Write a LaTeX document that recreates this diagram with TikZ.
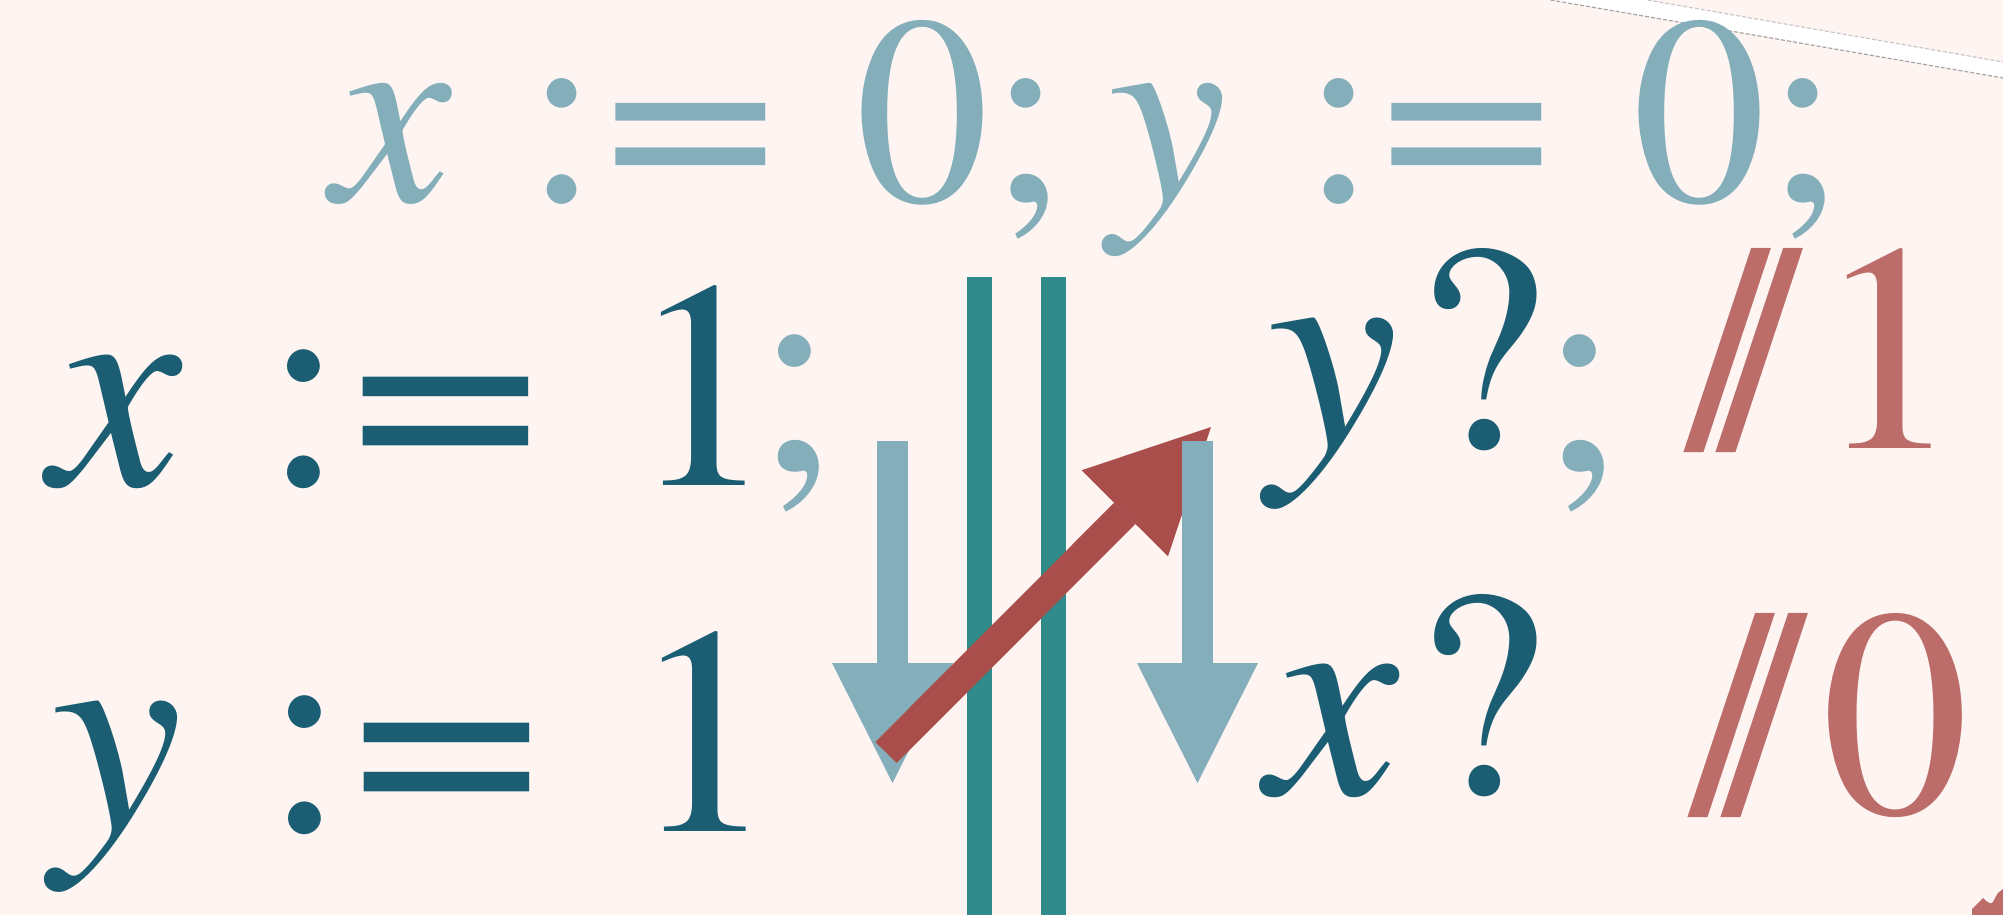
\documentclass[tikz,border=0pt]{standalone}
\usepackage{graphicx}
\usepackage{fontspec}
\setmainfont{texgyretermes-regular.otf}[ItalicFont=texgyretermes-italic.otf,BoldFont=texgyretermes-bold.otf,BoldItalicFont=texgyretermes-bolditalic.otf]
\usetikzlibrary{arrows.meta}
\definecolor{bg}{HTML}{FEF5F2}
\definecolor{lblue}{HTML}{84AEBA}
\definecolor{dteal}{HTML}{1B5D72}
\definecolor{tbar}{HTML}{318B8A}
\definecolor{rarrow}{HTML}{AA4E4B}
\definecolor{rtext}{HTML}{BC6D69}
\definecolor{bandline}{HTML}{A8A4A4}
\newcommand{\eqs}{\kern0.012em\scalebox{1.155}[1]{=}\kern0.012em}
\newcommand{\thk}{\hspace{0.278em}}
\newcommand{\thn}{\hspace{0.1667em}}
\begin{document}
\begin{tikzpicture}[x=1pt,y=-1pt,
  txt/.style={anchor=base west,inner sep=0pt,outer sep=0pt},
  big/.style={font=\fontsize{296}{300}\selectfont},
  small/.style={font=\fontsize{268}{300}\selectfont},
  downarrow/.style={draw=lblue,line width=31pt,-{Triangle[length=120pt 0 0,width=121pt 0 0,line width=0pt]}},
  redarrow/.style={draw=rarrow,line width=30pt,-{Triangle[length=122pt 0 0,width=122pt 0 0,line width=0pt]}},
  barline/.style={draw=tbar,line width=25pt},
  bandedge/.style={draw=bandline,line width=1.2pt,dash pattern=on 4pt off 2pt}]
\useasboundingbox (0,0) rectangle (2003,915);
\fill[bg] (0,0) rectangle (2003,915);
% top-right white band
\coordinate (wa1) at (1550.5,0);
\coordinate (wa2) at (2003,78);
\coordinate (wb1) at (1647.5,0);
\coordinate (wb2) at (2003,62);
\fill[white] (wa1) -- (wa2) -- (wb2) -- (wb1) -- cycle;
\draw[bandedge] (wa1) -- (wa2);
\draw[bandedge,draw opacity=0.6] (wb1) -- (wb2);
% coordinates for arrows and bars
\coordinate (la1) at (892.5,441);
\coordinate (la2) at (892.5,783);
\coordinate (ra1) at (1197.5,441);
\coordinate (ra2) at (1197.5,783);
\coordinate (rd1) at (886,752.5);
\coordinate (rd2) at (1211,427);
\coordinate (b1t) at (979.5,277);
\coordinate (b1b) at (979.5,915);
\coordinate (b2t) at (1053.5,277);
\coordinate (b2b) at (1053.5,915);
\draw[downarrow] (la1) -- (la2);
\draw[barline] (b1t) -- (b1b);
\draw[barline] (b2t) -- (b2b);
\draw[redarrow] (rd1) -- (rd2);
\draw[downarrow] (ra1) -- (ra2);
% texts
\node[txt,small,text=lblue] (init) at (332,201) {{\itshape x}\thk:\eqs\thk0;\thn{\itshape y}\thk:\eqs\thk0;};
\node[txt,big,text=dteal] (wx) at (50,485) {{\itshape x}\thk:\eqs\thk1};
\node[txt,big,text=lblue] (semi1) at (754,470) {;};
\node[txt,big,text=dteal] (wy) at (51,831) {{\itshape y}\thk:\eqs\thk1};
\node[txt,big,text=dteal] (ry) at (1267,448) {{\itshape y}\kern16pt?};
\node[txt,big,text=lblue] (semi2) at (1539,470) {;};
\node[txt,big,text=rtext] (c1) at (1686,448) {/\kern-50pt/\kern14pt1};
\node[txt,big,text=dteal] (rx) at (1267,794) {{\itshape x}\kern16pt?};
\node[txt,big,text=rtext] (c0) at (1690.7,813) {/\kern-49.7pt/\kern16pt0};
% bottom-right fragment
\fill[rtext] (1972,915) -- (1972,909) .. controls (1977,903) .. (1983,898) .. controls (1988,903) and (1991,905) .. (1993,902) .. controls (1996,896) .. (1998,893) -- (2003,889) -- (2003,915) -- cycle;
\end{tikzpicture}
\end{document}
